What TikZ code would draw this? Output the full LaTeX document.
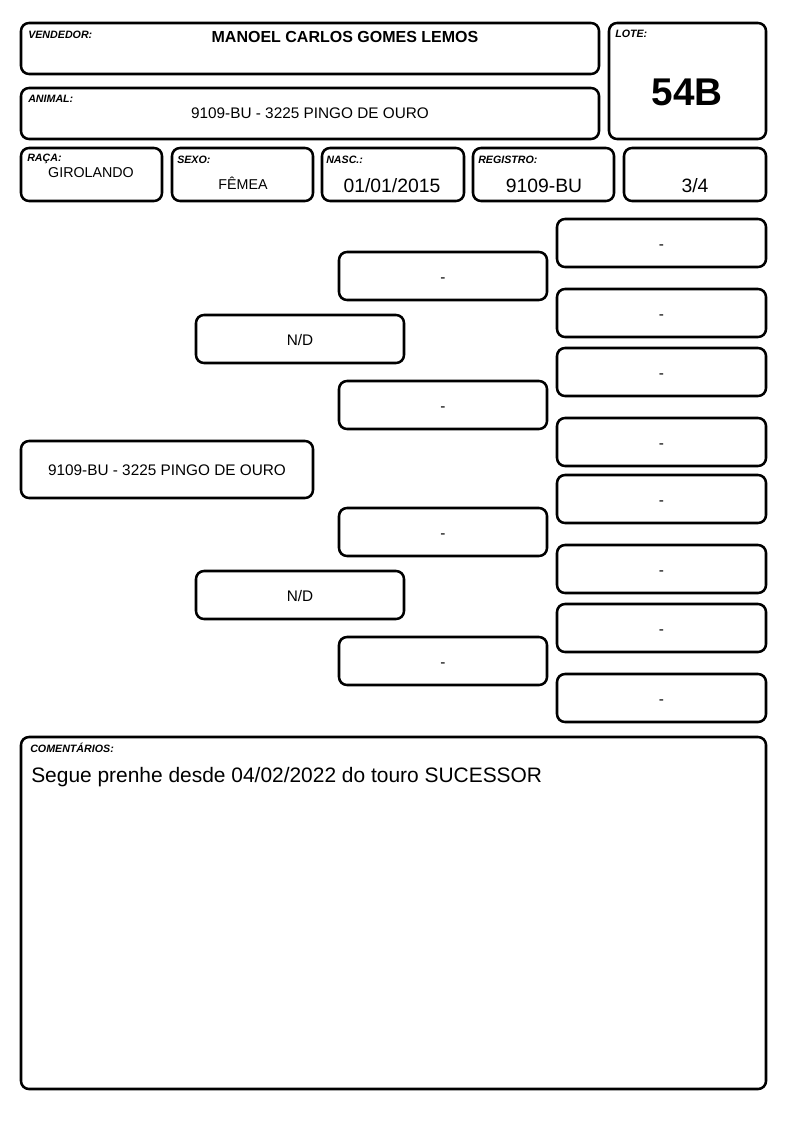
\documentclass[tikz,border=0pt]{standalone}
\usepackage{fontspec}
\setmainfont{Liberation Sans}
\tikzset{
  box/.style 2 args={draw, line width=1.9pt, rounded corners=6pt, inner sep=0pt,
    minimum width=#1*0.75pt, minimum height=#2*0.75pt},
  tag/.style={anchor=base west, inner sep=0pt, font=\bfseries\itshape\fontsize{8}{9}\selectfont},
  val/.style={anchor=base, inner sep=0pt, font=\fontsize{11.5}{13}\selectfont},
}
\begin{document}
\begin{tikzpicture}[x=0.75pt, y=-0.75pt]
  \useasboundingbox (0,0) rectangle (794,1123);

  % header
  \begin{scope}[every node/.style={font=\fontsize{11.5}{13}\selectfont}]
    \node[box={578}{51}] (vend) at (310,48.5)  {};
    \node[box={578}{51}] (anim) at (310,113.5) {};
    \node[box={157}{116}] (lote) at (687.5,81) {};
    \node[box={141}{53}] (raca) at (91.5,174.5) {};
    \node[box={141}{53}] (sexo) at (242.5,174.5) {};
    \node[box={142}{53}] (nasc) at (393,174.5) {};
    \node[box={141}{53}] (reg)  at (543.5,174.5) {};
    \node[box={142}{53}] (grau) at (695,174.5) {};
  \end{scope}

  \node[tag] (tvend) at (28,39)  {VENDEDOR:};
  \node[tag] (tlote) at (615,38) {LOTE:};
  \node[tag] (tanim) at (28,103) {ANIMAL:};
  \node[tag] (traca) at (27,162) {RAÇA:};
  \node[tag] (tsexo) at (177,164) {SEXO:};
  \node[tag] (tnasc) at (326,164) {NASC.:};
  \node[tag] (treg)  at (478,164) {REGISTRO:};

  \node[val, font=\bfseries\fontsize{12}{14}\selectfont] (nvend) at (345,43) {MANOEL CARLOS GOMES LEMOS};
  \node[val, font=\bfseries\fontsize{29}{32}\selectfont] (nlote) at (687,106) {54B};
  \node[val] (nanim) at (310,119) {9109-BU - 3225 PINGO DE OURO};
  \node[val, font=\fontsize{10.7}{12}\selectfont] (nraca) at (91,178) {GIROLANDO};
  \node[val, font=\fontsize{10.7}{12}\selectfont] (nsexo) at (243,190) {FÊMEA};
  \node[val, font=\fontsize{14.5}{16}\selectfont] (nnasc) at (392,193) {01/01/2015};
  \node[val, font=\fontsize{14.5}{16}\selectfont] (nreg)  at (544,193) {9109-BU};
  \node[val, font=\fontsize{14.5}{16}\selectfont] (ngrau) at (695,193) {3/4};

  % pedigree
  \begin{scope}[every node/.style={font=\fontsize{11.5}{13}\selectfont, text height=9.2pt, text depth=0pt}]
    \node[box={292}{57}] (a)  at (167,469.5) {9109-BU - 3225 PINGO DE OURO};

    \node[box={208}{48}] (g1) at (300,339) {N/D};
    \node[box={208}{48}] (g2) at (300,595) {N/D};

    \node[box={208}{48}] (p1) at (443,276) {-};
    \node[box={208}{48}] (p2) at (443,405) {-};
    \node[box={208}{48}] (p3) at (443,532) {-};
    \node[box={208}{48}] (p4) at (443,661) {-};

    \node[box={209}{48}] (s1) at (661.5,243) {-};
    \node[box={209}{48}] (s2) at (661.5,313) {-};
    \node[box={209}{48}] (s3) at (661.5,372) {-};
    \node[box={209}{48}] (s4) at (661.5,442) {-};
    \node[box={209}{48}] (s5) at (661.5,499) {-};
    \node[box={209}{48}] (s6) at (661.5,569) {-};
    \node[box={209}{48}] (s7) at (661.5,628) {-};
    \node[box={209}{48}] (s8) at (661.5,698) {-};
  \end{scope}

  % comments
  \node[box={745}{352}] (obs) at (393.5,913) {};
  \node[tag] (tobs) at (30,752) {COMENTÁRIOS:};
  \node[val, anchor=base west, font=\fontsize{15.7}{18}\selectfont] (nobs) at (31,782)
    {Segue prenhe desde 04/02/2022 do touro SUCESSOR};

\end{tikzpicture}
\end{document}
